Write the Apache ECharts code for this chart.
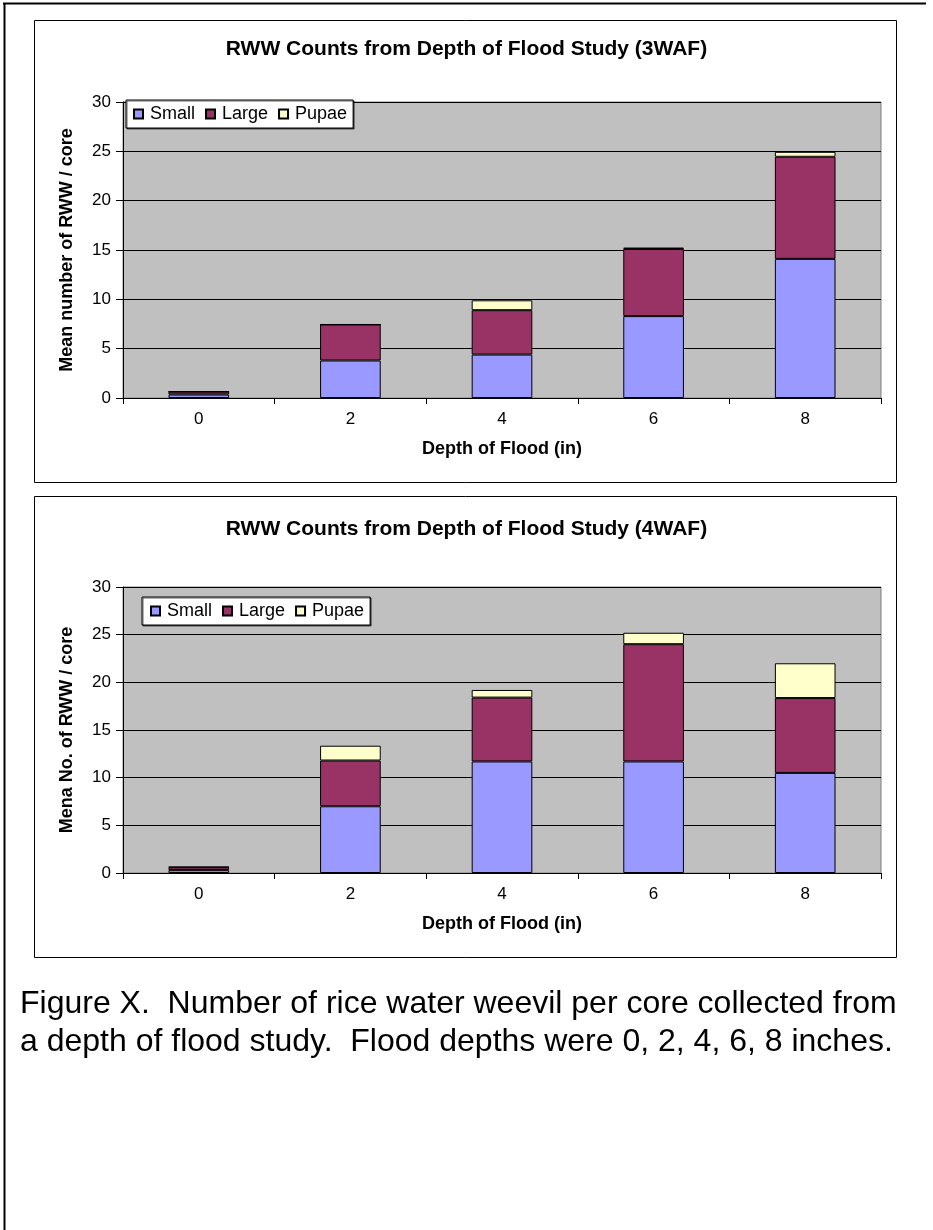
<!DOCTYPE html>
<html>
<head>
<meta charset="utf-8">
<title>RWW Counts from Depth of Flood Study</title>
<script src="https://cdn.jsdelivr.net/npm/echarts@6/dist/echarts.min.js"></script>
<style>
  html, body { margin: 0; padding: 0; background: #ffffff; }
  #chart { width: 933px; height: 1230px; }
</style>
</head>
<body>
<div id="chart"></div>
<script>
// Flood depth categories (inches)
const depths = ['0', '2', '4', '6', '8'];
const seriesNames = ['Small', 'Large', 'Pupae'];
const yTicks = [0, 5, 10, 15, 20, 25, 30];

// Mean RWW per core, 3 weeks after flood
const small3 = [0.35, 3.8, 4.4, 8.3, 14.1];
const large3 = [0.3, 3.65, 4.5, 6.8, 10.35];
const pupae3 = [0, 0, 1.0, 0.15, 0.5];

// Mean RWW per core, 4 weeks after flood
const small4 = [0.3, 7.0, 11.7, 11.7, 10.5];
const large4 = [0.3, 4.8, 6.7, 12.3, 7.85];
const pupae4 = [0.05, 1.55, 0.8, 1.2, 3.65];

const colors = { Small: '#9999FF', Large: '#993366', Pupae: '#FFFFCC' };
const FONT = 'Liberation Sans, Arial, sans-serif';

const chart = echarts.init(document.getElementById('chart'), null, { renderer: 'canvas' });

function makeGrid(top) {
  return {
    left: 123, top: top.top, width: 758, height: top.height,
    show: true, backgroundColor: '#C0C0C0', borderColor: '#808080', borderWidth: 1,
    containLabel: false
  };
}

function xAxis(gridIndex) {
  return {
    type: 'category', gridIndex, data: depths,
    name: 'Depth of Flood (in)', nameLocation: 'middle', nameGap: 42,
    nameTextStyle: { fontFamily: FONT, fontWeight: 'bold', fontSize: 18, color: '#000' },
    axisLine: { lineStyle: { color: '#000', width: 1 } },
    axisTick: { show: true, length: 6, lineStyle: { color: '#000' } },
    axisLabel: { fontFamily: FONT, fontSize: 17, color: '#000', margin: 13 },
    splitLine: { show: false }
  };
}

function yAxis(gridIndex, name) {
  return {
    type: 'value', gridIndex, min: yTicks[0], max: yTicks[yTicks.length - 1], interval: 5,
    name, nameLocation: 'middle', nameGap: 47,
    nameTextStyle: { fontFamily: FONT, fontWeight: 'bold', fontSize: 18, color: '#000' },
    axisLine: { show: true, lineStyle: { color: '#000', width: 1 } },
    axisTick: { show: true, length: 7, lineStyle: { color: '#000' } },
    axisLabel: { fontFamily: FONT, fontSize: 17, color: '#000', margin: 12 },
    splitLine: { show: true, lineStyle: { color: '#000', width: 1 } }
  };
}

function barSeries(name, data, idx, stack) {
  return {
    type: 'bar', name, data, stack,
    xAxisIndex: idx, yAxisIndex: idx,
    barWidth: '40%',
    itemStyle: { color: colors[name], borderColor: '#000', borderWidth: 1 },
    emphasis: { disabled: true },
    animation: false
  };
}

function legend(left, top, padLeft) {
  return {
    data: seriesNames, left, top, orient: 'horizontal',
    itemWidth: 9, itemHeight: 9, itemGap: 10,
    icon: 'rect',
    backgroundColor: '#fff', borderColor: '#000', borderWidth: 1,
    padding: [5, 6, 5, padLeft],
    shadowColor: 'rgba(0,0,0,0.6)', shadowOffsetX: 1, shadowOffsetY: 1, shadowBlur: 0,
    textStyle: { fontFamily: FONT, fontSize: 18, color: '#000', padding: [0, 0, 0, 2] },
    selectedMode: false
  };
}

const option = {
  animation: false,
  title: [
    { text: 'RWW Counts from Depth of Flood Study (3WAF)', left: 'center', top: 34,
      textStyle: { fontFamily: FONT, fontWeight: 'bold', fontSize: 21, color: '#000' } },
    { text: 'RWW Counts from Depth of Flood Study (4WAF)', left: 'center', top: 514,
      textStyle: { fontFamily: FONT, fontWeight: 'bold', fontSize: 21, color: '#000' } }
  ],
  legend: [legend(126, 100, 7), legend(142, 597, 8)],
  grid: [makeGrid({ top: 102, height: 296 }), makeGrid({ top: 587, height: 286 })],
  xAxis: [xAxis(0), xAxis(1)],
  yAxis: [yAxis(0, 'Mean number of RWW / core'), yAxis(1, 'Mena No. of RWW / core')],
  series: [
    barSeries('Small', small3, 0, 'a'),
    barSeries('Large', large3, 0, 'a'),
    barSeries('Pupae', pupae3, 0, 'a'),
    barSeries('Small', small4, 1, 'b'),
    barSeries('Large', large4, 1, 'b'),
    barSeries('Pupae', pupae4, 1, 'b')
  ],
  graphic: [
    // page frame
    { type: 'line', shape: { x1: 3, y1: 3.5, x2: 926, y2: 3.5 }, style: { stroke: '#000', lineWidth: 2 }, silent: true },
    { type: 'line', shape: { x1: 4.5, y1: 3, x2: 4.5, y2: 1230 }, style: { stroke: '#000', lineWidth: 2 }, silent: true },
    // chart boxes
    { type: 'rect', shape: { x: 34.5, y: 20.5, width: 862, height: 462 }, style: { fill: null, stroke: '#000', lineWidth: 1 }, z: -1, silent: true },
    { type: 'rect', shape: { x: 34.5, y: 496.5, width: 862, height: 461 }, style: { fill: null, stroke: '#000', lineWidth: 1 }, z: -1, silent: true },
    // caption
    { type: 'text', left: 20, top: 985, silent: true,
      style: { text: 'Figure X.  Number of rice water weevil per core collected from\na depth of flood study.  Flood depths were 0, 2, 4, 6, 8 inches.',
               font: '32px ' + FONT, fill: '#000', lineHeight: 38 } }
  ]
};

chart.setOption(option);
</script>
</body>
</html>
